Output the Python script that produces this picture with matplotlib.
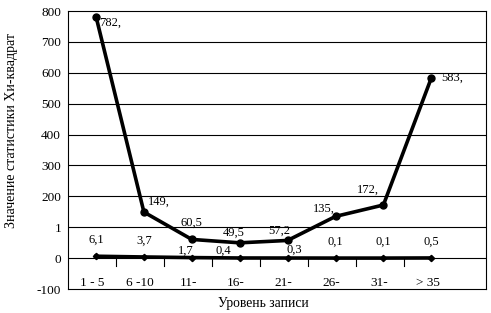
import numpy as np
import matplotlib
matplotlib.use('Agg')
import matplotlib.pyplot as plt

# данные
categories = ["1 - 5", "6 -10", "11-", "16-", "21-", "26-", "31-", "> 35"]
chi_values = [782, 149, 60.5, 49.5, 57.2, 135, 172, 583]
chi_labels = ["782,", "149,", "60,5", "49,5", "57,2", "135,", "172,", "583,"]
low_values = [6.1, 3.7, 1.7, 0.4, 0.3, 0.1, 0.1, 0.5]
low_labels = ["6,1", "3,7", "1,7", "0,4", "0,3", "0,1", "0,1", "0,5"]
y_ticks = [-100, 0, 100, 200, 300, 400, 500, 600, 700, 800]
y_tick_labels = ["-100", "0", "1", "200", "300", "400", "500", "600", "700", "800"]

# смещения подписей (пиксели)
chi_off = [(3, -6, 'left'), (4, 10, 'left'), (0, 17, 'center'), (-6, 10, 'center'),
           (-8, 10, 'center'), (-12, 8, 'center'), (-15, 15, 'center'), (10, 0, 'left')]
low_off = [(0, 16), (0, 16), (-6, 7), (-16, 7), (7, 8), (0, 16), (0, 16), (0, 16)]

plt.rcParams['font.family'] = ['Liberation Serif', 'DejaVu Serif']
plt.rcParams['font.size'] = 9

fig = plt.figure(figsize=(4.91, 3.13), dpi=100)
ax = fig.add_axes([68 / 491, 24 / 313, 418 / 491, 278 / 313])

x = np.arange(len(categories))

for t in y_ticks[1:-1]:
    ax.axhline(t, color='black', lw=0.8, zorder=1)

ax.plot(x, low_values, color='black', lw=2.6, marker='D', markersize=3.2, zorder=3)
ax.plot(x, chi_values, color='black', lw=2.6, marker='o', markersize=5, zorder=4)

for i in range(len(x)):
    dx, dy, ha = chi_off[i]
    ax.annotate(chi_labels[i], (x[i], chi_values[i]), xytext=(dx, dy),
                textcoords='offset pixels', ha=ha, va='center', fontsize=9)
    dx, dy = low_off[i]
    ax.annotate(low_labels[i], (x[i], low_values[i]), xytext=(dx, dy),
                textcoords='offset pixels', ha='center', va='center', fontsize=9)

# засечки категорий под нулевой линией
for i in range(len(x) - 1):
    ax.plot([i + 0.42, i + 0.42], [0, -26], color='black', lw=0.8, zorder=2)

for i, c in enumerate(categories):
    ax.text(x[i] - 0.08, -80, c, ha='center', va='center', fontsize=9.5)

ax.set_xlim(-0.585, 8.142)
ax.set_ylim(-100, 800)
ax.set_xticks([])
ax.set_yticks(y_ticks)
ax.set_yticklabels(y_tick_labels, fontsize=9.5)
ax.tick_params(axis='y', length=0, pad=5)
for s in ax.spines.values():
    s.set_linewidth(0.8)

fig.text(263 / 491, 1 - 303 / 313, "Уровень записи", ha='center', va='center', fontsize=9.8)
fig.text(12 / 491, 1 - 130 / 313, "Значение статистики Хи-квадрат", rotation=90,
         ha='center', va='center', fontsize=10)

fig.savefig('out.png', dpi=100)
